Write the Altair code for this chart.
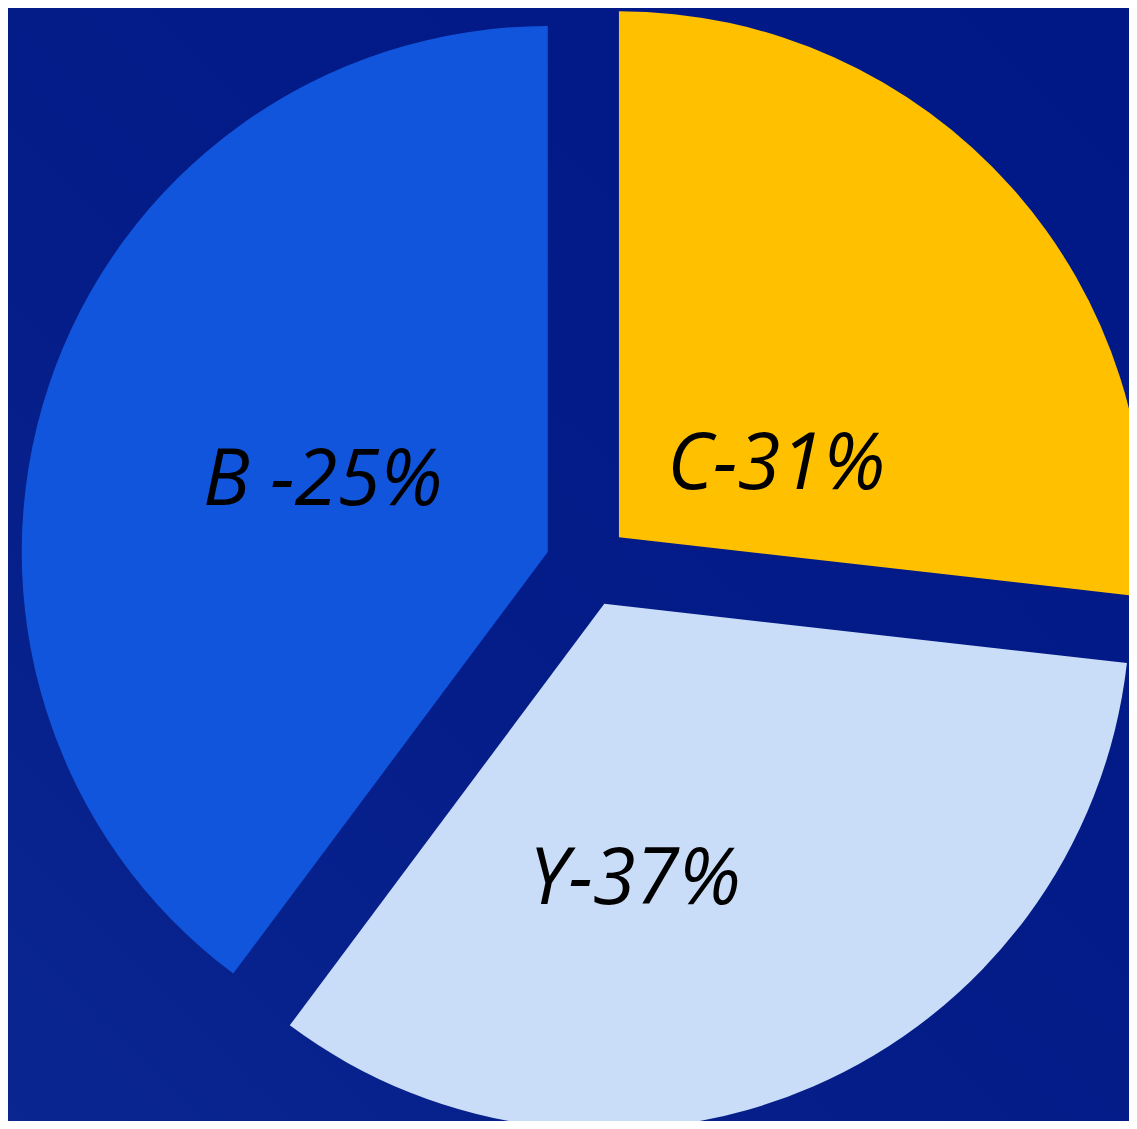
import math
import numpy as np
import pandas as pd
import altair as alt

# ---- data ----
categories = ["C", "Y", "B"]
values = [26.8, 33.4, 39.8]
labels = ["C-31%", "Y-37%", "B -25%"]

# ---- styles / layout ----
colors = ["#FFC000", "#CADDF8", "#1155DD"]
W, H = 1121, 1113
CX, CY = 579.6, 557.2
R = 526
EXPLODE = 42
label_shift = {"C": 15.8, "Y": 17.0, "B": 0.0}   # degrees from slice middle
label_radius = {"C": 175, "Y": 274, "B": 237}

total = float(sum(values))
starts, ends, acc = [], [], 0.0
for v in values:
    starts.append(acc)
    acc += v
    ends.append(acc)

df = pd.DataFrame({"category": categories, "value": values, "label": labels,
                   "start": starts, "end": ends})
df["mid"] = (df["start"] + df["end"]) / 2
ang = df["mid"] / total * 2 * math.pi
df["px"] = CX + EXPLODE * np.sin(ang)
df["py"] = CY - EXPLODE * np.cos(ang)
df["label_pos"] = df["mid"] + df["category"].map(label_shift) / 360.0 * total
df["label_r"] = df["category"].map(label_radius)

theta_scale = alt.Scale(domain=[0, total])

bg = alt.Chart(alt.Data(values=[{"a": 1}])).mark_rect(
    color=alt.LinearGradient(
        gradient="linear",
        stops=[alt.GradientStop(color="#0a2690", offset=0),
               alt.GradientStop(color="#041c88", offset=0.45),
               alt.GradientStop(color="#001886", offset=1)],
        x1=0, y1=1, x2=1, y2=0),
    strokeWidth=0,
).encode(x=alt.value(0), x2=alt.value(W), y=alt.value(0), y2=alt.value(H))

arcs = alt.Chart(df).mark_arc(radius=R, strokeWidth=0).encode(
    theta=alt.Theta("start:Q", scale=theta_scale, stack=False),
    theta2="end:Q",
    x=alt.X("px:Q", scale=None, axis=None),
    y=alt.Y("py:Q", scale=None, axis=None),
    color=alt.Color("category:N", scale=alt.Scale(domain=categories, range=colors), legend=None),
)

text = alt.Chart(df).mark_text(
    font="Open Sans", fontStyle="italic", fontSize=78, color="black",
    align="center", baseline="middle", dy=5,
).encode(
    x=alt.X("px:Q", scale=None, axis=None),
    y=alt.Y("py:Q", scale=None, axis=None),
    theta=alt.Theta("label_pos:Q", scale=theta_scale, stack=False),
    radius=alt.Radius("label_r:Q", scale=None),
    text="label:N",
)

chart = alt.layer(bg, arcs, text).properties(
    width=W, height=H, padding=0, autosize="none", background="#041c88"
).configure_view(stroke=None)

chart.save("out.html", embed_options={"renderer": "svg", "actions": False})
